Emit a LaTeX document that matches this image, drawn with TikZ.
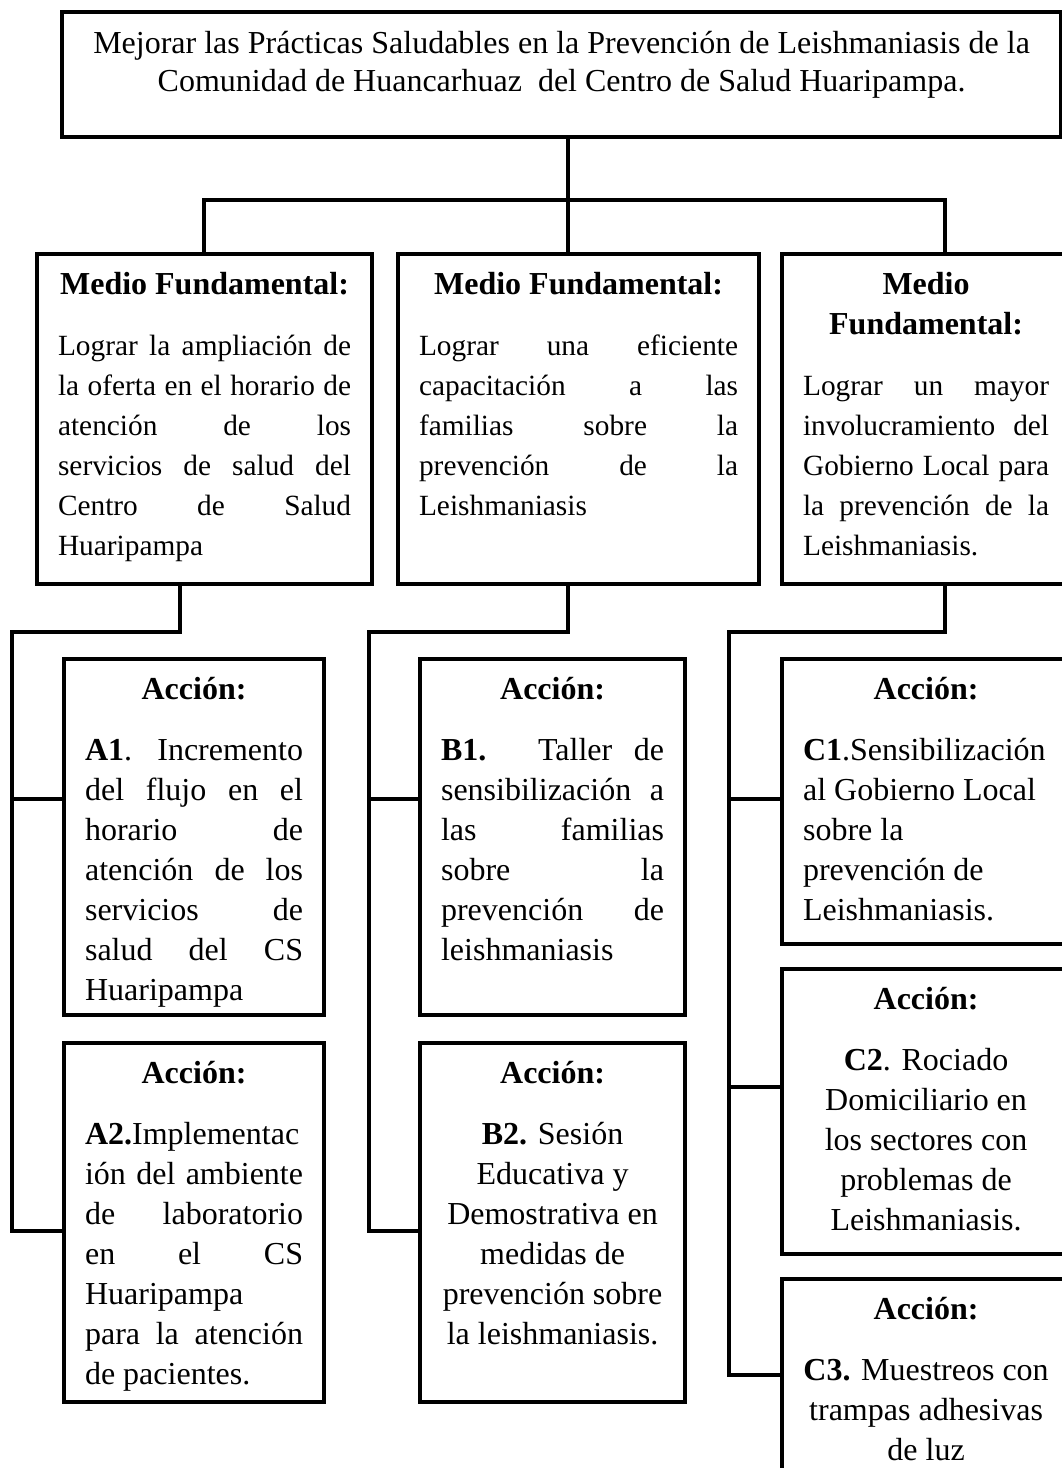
\documentclass[tikz,border=0pt]{standalone}
\usepackage{fontspec}
\setmainfont{Liberation Serif}
\usetikzlibrary{positioning}

\newlength{\pxu}
\setlength{\pxu}{0.375pt}
\newcommand{\encabezado}[1]{{\centering\bfseries\rule{0pt}{40\pxu}#1\par}\vspace{21\pxu}}
\newcommand{\contenido}[3]{\parbox[t][#1\pxu][t]{#2\pxu}{\sloppy\hyphenpenalty=10000\exhyphenpenalty=10000 #3}}

\begin{document}
\begin{tikzpicture}[x=\pxu, y=-\pxu,
    caja/.style={draw, line width=1.55pt, inner xsep=21\pxu, inner ysep=0pt,
        anchor=north west, font=\fontsize{12}{15}\selectfont},
    linea/.style={line width=1.2pt}]
    \useasboundingbox (0,0) rectangle (1061,1468);

    % objetivo central
    \node[caja] (obj) at (60,10) {\contenido{125}{957}{\centering\fontsize{12}{14.25}\selectfont
        \rule{0pt}{41\pxu}Mejorar las Prácticas Saludables en la Prevención de Leishmaniasis de la\\
        Comunidad de Huancarhuaz \ del Centro de Salud Huaripampa.}};

    % medios fundamentales
    \node[caja] (m1) at (35,252) {\contenido{330}{293}{\encabezado{Medio Fundamental:}%
        \fontsize{11}{15}\selectfont Lograr la ampliación de\linebreak la oferta en el horario de\linebreak
        atención de los\linebreak servicios de salud del\linebreak Centro de Salud\linebreak Huaripampa}};
    \node[caja] (m2) at (396,252) {\contenido{330}{319}{\encabezado{Medio Fundamental:}%
        \fontsize{11}{15}\selectfont Lograr una eficiente\linebreak capacitación a las\linebreak
        familias sobre la\linebreak prevención de la\linebreak Leishmaniasis}};
    \node[caja] (m3) at (780,252) {\contenido{330}{246}{\encabezado{Medio\\Fundamental:}%
        \fontsize{11}{15}\selectfont Lograr un mayor\linebreak involucramiento del\linebreak
        Gobierno Local para\linebreak la prevención de la\linebreak Leishmaniasis.}};

    % acciones
    \node[caja] (a1) at (62,657) {\contenido{356}{218}{\encabezado{Acción:}%
        \textbf{A1}. Incremento\linebreak del flujo en el\linebreak horario de\linebreak atención de los\linebreak
        servicios de\linebreak salud del CS\linebreak Huaripampa}};
    \node[caja, below=24\pxu of a1] (a2) {\contenido{359}{218}{\encabezado{Acción:}%
        \textbf{A2.}Implementac\linebreak ión del ambiente\linebreak de laboratorio\linebreak en el CS\linebreak
        Huaripampa\linebreak para la atención\linebreak de pacientes.}};
    \node[caja] (b1) at (418,657) {\contenido{356}{223}{\encabezado{Acción:}%
        \textbf{B1.} Taller de\linebreak sensibilización a\linebreak las familias\linebreak sobre la\linebreak
        prevención de\linebreak leishmaniasis}};
    \node[caja, below=24\pxu of b1] (b2) {\contenido{359}{223}{\encabezado{Acción:}%
        \centering\textbf{B2.} Sesión\\ Educativa y\\ Demostrativa en\\ medidas de\\ prevención sobre\\
        la leishmaniasis.}};
    \node[caja] (c1) at (780,657) {\contenido{285}{246}{\encabezado{Acción:}%
        \raggedright\textbf{C1}.Sensibilización\\ al Gobierno Local\\ sobre la\\ prevención de\\ Leishmaniasis.}};
    \node[caja, below=21\pxu of c1] (c2) {\contenido{285}{246}{\encabezado{Acción:}%
        \centering\textbf{C2}. Rociado\\ Domiciliario en\\ los sectores con\\ problemas de\\ Leishmaniasis.}};
    \node[caja, below=21\pxu of c2] (c3) {\contenido{240}{246}{\encabezado{Acción:}%
        \centering\textbf{C3.} Muestreos con\\ trampas adhesivas\\ de luz}};

    % conectores del primer nivel
    \coordinate (jt) at (568,200);
    \coordinate (j1) at (204,200);
    \coordinate (j3) at (945,200);
    \draw[linea] (jt |- obj.south) -- (jt |- m2.north);
    \draw[linea] (j1 |- m1.north) -- (j1) -- (j3) -- (j3 |- m3.north);

    % conectores del segundo nivel
    \coordinate (sa) at (180,632);
    \coordinate (ea) at (12,632);
    \draw[linea] (sa |- m1.south) -- (sa) -- (ea) -- (ea |- 0,1231) -- (a2.west |- 0,1231);
    \draw[linea] (ea |- 0,799) -- (a1.west |- 0,799);

    \coordinate (sb) at (568,632);
    \coordinate (eb) at (369,632);
    \draw[linea] (sb |- m2.south) -- (sb) -- (eb) -- (eb |- 0,1231) -- (b2.west |- 0,1231);
    \draw[linea] (eb |- 0,799) -- (b1.west |- 0,799);

    \coordinate (sc) at (945,632);
    \coordinate (ec) at (729,632);
    \draw[linea] (sc |- m3.south) -- (sc) -- (ec) -- (ec |- 0,1375) -- (c3.west |- 0,1375);
    \foreach \y/\n in {799/c1, 1087/c2}
        \draw[linea] (ec |- 0,\y) -- (\n.west |- 0,\y);
\end{tikzpicture}
\end{document}
